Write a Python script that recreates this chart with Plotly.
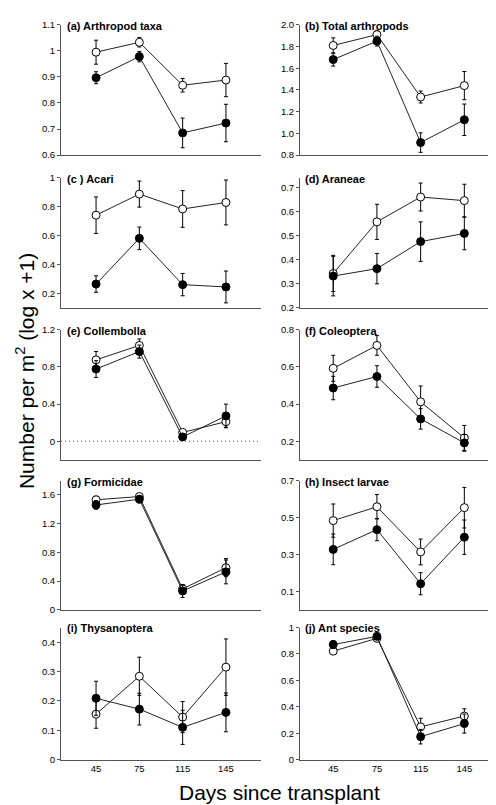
import plotly.graph_objects as go

days = ["45", "75", "115", "145"]

panel_titles = ["(a) Arthropod taxa", "(b) Total arthropods", "(c ) Acari", "(d) Araneae",
                "(e) Collembolla", "(f) Coleoptera", "(g) Formicidae", "(h) Insect larvae",
                "(i) Thysanoptera", "(j) Ant species"]

a_open = [0.995, 1.033, 0.868, 0.888]
a_open_err = [0.046, 0.018, 0.026, 0.064]
a_filled = [0.897, 0.978, 0.685, 0.723]
a_filled_err = [0.023, 0.020, 0.057, 0.072]

b_open = [1.81, 1.91, 1.335, 1.44]
b_open_err = [0.07, 0.04, 0.055, 0.13]
b_filled = [1.68, 1.85, 0.915, 1.125]
b_filled_err = [0.06, 0.045, 0.09, 0.145]

c_open = [0.741, 0.887, 0.784, 0.829]
c_open_err = [0.126, 0.09, 0.127, 0.155]
c_filled = [0.265, 0.581, 0.261, 0.245]
c_filled_err = [0.057, 0.078, 0.077, 0.11]

d_open = [0.343, 0.557, 0.660, 0.645]
d_open_err = [0.075, 0.073, 0.058, 0.068]
d_filled = [0.332, 0.363, 0.475, 0.509]
d_filled_err = [0.082, 0.063, 0.082, 0.068]

e_open = [0.875, 1.03, 0.095, 0.21]
e_open_err = [0.09, 0.07, 0.03, 0.06]
e_filled = [0.776, 0.964, 0.046, 0.272]
e_filled_err = [0.09, 0.07, 0.03, 0.127]

f_open = [0.592, 0.715, 0.412, 0.218]
f_open_err = [0.07, 0.053, 0.085, 0.067]
f_filled = [0.486, 0.548, 0.32, 0.191]
f_filled_err = [0.063, 0.058, 0.055, 0.045]

g_open = [1.532, 1.577, 0.29, 0.586]
g_open_err = [0.05, 0.04, 0.06, 0.126]
g_filled = [1.46, 1.54, 0.261, 0.527]
g_filled_err = [0.06, 0.05, 0.09, 0.166]

h_open = [0.483, 0.558, 0.313, 0.553]
h_open_err = [0.09, 0.066, 0.07, 0.11]
h_filled = [0.327, 0.434, 0.141, 0.393]
h_filled_err = [0.083, 0.06, 0.06, 0.093]

i_open = [0.155, 0.284, 0.145, 0.315]
i_open_err = [0.048, 0.065, 0.053, 0.096]
i_filled = [0.209, 0.172, 0.110, 0.161]
i_filled_err = [0.058, 0.054, 0.058, 0.066]

j_open = [0.821, 0.918, 0.248, 0.33]
j_open_err = [0.02, 0.02, 0.065, 0.055]
j_filled = [0.871, 0.933, 0.174, 0.273]
j_filled_err = [0.03, 0.02, 0.055, 0.072]

a_ticks = [0.6, 0.7, 0.8, 0.9, 1.0, 1.1]
a_ticktext = ["0.6", "0.7", "0.8", "0.9", "1", "1.1"]
b_ticks = [0.8, 1.0, 1.2, 1.4, 1.6, 1.8, 2.0]
b_ticktext = ["0.8", "1.0", "1.2", "1.4", "1.6", "1.8", "2.0"]
c_ticks = [0.2, 0.4, 0.6, 0.8, 1.0]
c_ticktext = ["0.2", "0.4", "0.6", "0.8", "1"]
d_ticks = [0.2, 0.3, 0.4, 0.5, 0.6, 0.7]
d_ticktext = ["0.2", "0.3", "0.4", "0.5", "0.6", "0.7"]
e_ticks = [0, 0.4, 0.8, 1.2]
e_ticktext = ["0", "0.4", "0.8", "1.2"]
f_ticks = [0.2, 0.4, 0.6, 0.8]
f_ticktext = ["0.2", "0.4", "0.6", "0.8"]
g_ticks = [0, 0.4, 0.8, 1.2, 1.6]
g_ticktext = ["0", "0.4", "0.8", "1.2", "1.6"]
h_ticks = [0.1, 0.3, 0.5, 0.7]
h_ticktext = ["0.1", "0.3", "0.5", "0.7"]
i_ticks = [0, 0.1, 0.2, 0.3, 0.4]
i_ticktext = ["0", "0.1", "0.2", "0.3", "0.4"]
j_ticks = [0, 0.2, 0.4, 0.6, 0.8, 1.0]
j_ticktext = ["0", "0.2", "0.4", "0.6", "0.8", "1"]

panels = [
    (a_open, a_open_err, a_filled, a_filled_err, a_ticks, a_ticktext, [0.6, 1.1]),
    (b_open, b_open_err, b_filled, b_filled_err, b_ticks, b_ticktext, [0.8, 2.0]),
    (c_open, c_open_err, c_filled, c_filled_err, c_ticks, c_ticktext, [0.1, 1.0]),
    (d_open, d_open_err, d_filled, d_filled_err, d_ticks, d_ticktext, [0.2, 0.74]),
    (e_open, e_open_err, e_filled, e_filled_err, e_ticks, e_ticktext, [-0.2, 1.2]),
    (f_open, f_open_err, f_filled, f_filled_err, f_ticks, f_ticktext, [0.1, 0.8]),
    (g_open, g_open_err, g_filled, g_filled_err, g_ticks, g_ticktext, [0, 1.8]),
    (h_open, h_open_err, h_filled, h_filled_err, h_ticks, h_ticktext, [0, 0.7]),
    (i_open, i_open_err, i_filled, i_filled_err, i_ticks, i_ticktext, [0, 0.45]),
    (j_open, j_open_err, j_filled, j_filled_err, j_ticks, j_ticktext, [0, 1.0]),
]

W, H = 496, 805
FONT = "Arial, Liberation Sans, sans-serif"
col_px = [(53, 253), (292, 490)]
row_px = [(11, 143), (166, 298), (320, 452), (473, 604), (622, 756)]
xranges = [[-0.81, 3.81], [-0.76, 3.77]]
title_x = [57, 295]

fig = go.Figure()
layout = dict(
    width=W, height=H, margin=dict(l=0, r=0, t=0, b=0),
    paper_bgcolor="white", plot_bgcolor="white", showlegend=False,
    font=dict(family=FONT, size=10, color="black"),
)
annotations = []
shapes = []
for k, (op, ope, fi, fie, tv, tt, yr) in enumerate(panels):
    r, c = divmod(k, 2)
    n = k + 1
    xa = "x" if n == 1 else f"x{n}"
    ya = "y" if n == 1 else f"y{n}"
    x0, x1 = col_px[c]
    top, bot = row_px[r]
    layout[f"xaxis{'' if n == 1 else n}"] = dict(
        domain=[x0 / W, x1 / W], anchor=ya, type="category",
        categoryorder="array", categoryarray=days,
        range=xranges[c], showline=True, linecolor="#555", linewidth=1,
        showgrid=False, zeroline=False, ticks="",
        showticklabels=(r == 4), tickfont=dict(size=9.5, family=FONT),
    )
    layout[f"yaxis{'' if n == 1 else n}"] = dict(
        domain=[1 - bot / H, 1 - top / H], anchor=xa, range=yr,
        showline=True, linecolor="#555", linewidth=1, showgrid=False,
        zeroline=False, ticks="outside", ticklen=3, tickcolor="#555",
        tickvals=tv, ticktext=tt, tickfont=dict(size=9.5, family=FONT),
    )
    fig.add_trace(go.Scatter(
        x=days, y=op, xaxis=xa, yaxis=ya, mode="lines+markers",
        line=dict(color="#222", width=1),
        marker=dict(symbol="circle", size=8, color="white", line=dict(color="black", width=1)),
        error_y=dict(type="data", array=ope, visible=True, color="black", thickness=1, width=2),
    ))
    fig.add_trace(go.Scatter(
        x=days, y=fi, xaxis=xa, yaxis=ya, mode="lines+markers",
        line=dict(color="#222", width=1),
        marker=dict(symbol="circle", size=8, color="black", line=dict(color="black", width=1)),
        error_y=dict(type="data", array=fie, visible=True, color="black", thickness=1, width=2),
    ))
    annotations.append(dict(
        text=f"<b>{panel_titles[k]}</b>", xref="paper", yref="paper",
        x=title_x[c] / W, y=1 - (top + 1) / H, xanchor="left", yanchor="middle",
        showarrow=False, font=dict(size=11, family=FONT, color="black"),
    ))
    if k == 4:
        shapes.append(dict(type="line", xref=f"{xa} domain", yref=ya, x0=0, x1=1, y0=0, y1=0,
                           line=dict(color="#444", width=1, dash="1px,3px")))

annotations.append(dict(
    text="Number per m<sup>2</sup> (log x +1)", xref="paper", yref="paper",
    x=17 / W, y=1 - 362 / H, xanchor="center", yanchor="middle", textangle=-90,
    showarrow=False, font=dict(size=21, family=FONT, color="black"),
))
annotations.append(dict(
    text="Days since transplant", xref="paper", yref="paper",
    x=271 / W, y=1 - 789 / H, xanchor="center", yanchor="middle",
    showarrow=False, font=dict(size=21, family=FONT, color="black"),
))
layout["annotations"] = annotations
layout["shapes"] = shapes
fig.update_layout(**layout)
fig.write_html("out.html")
